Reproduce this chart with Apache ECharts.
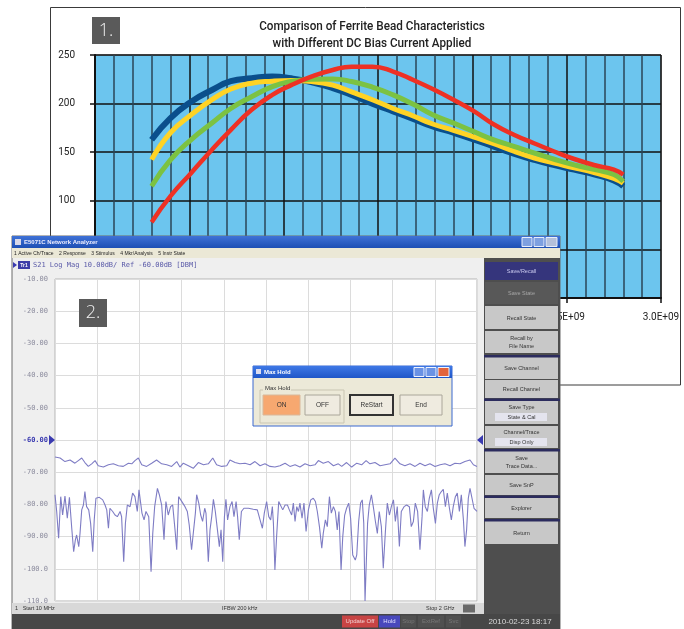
<!DOCTYPE html>
<html><head><meta charset="utf-8">
<script src="https://cdn.jsdelivr.net/npm/echarts@6/dist/echarts.min.js"></script>
<style>html,body{margin:0;padding:0;background:#fff}#c{width:684px;height:629px}</style>
</head><body><div id="c"></div>
<script>
// ---------- Chart 1: ferrite bead impedance vs frequency (GHz) ----------
const beadFreqGHz = [0.30,0.40,0.51,0.62,0.72,0.83,0.94,1.04,1.15,1.26,1.36,1.47,1.58,1.69,1.79,1.90,2.01,2.11,2.22,2.33,2.43,2.54,2.65,2.75,2.80];
const biasBlue   = [162.9,185,202,214,223,226,228,226,222,216,209,200,192,184,176.5,170,163,156,148.5,142,137,132,127,121,115];
const biasYellow = [142.4,170,188.5,204,215,221,223,223.7,222.7,219,212,204,195,187,179,172.5,165.6,159,151,144,139,134,128.7,123,118];
const biasGreen  = [115,142,163,180,195,207,217.5,222.7,225,225.4,222.7,217,209,199,188.5,180,171,163,156,149,143,137,132,127,120];
const biasRed    = [78,104.8,128.7,152.6,173,193.6,209,219,228,234.6,238,238,233,224,215,204,192,179,168,159,151,143,136.6,132,127];
const chart1Title = ['Comparison of Ferrite Bead Characteristics', 'with Different DC Bias Current Applied'];

// ---------- Chart 2: network analyzer S21 traces ----------
const lowerMHz = [10,18,27,37,46,57,68,78,89,98,106,112,122,128,136,144,151,159,169,178,188,195,203,219,235,246,254,262,269,282,293,304,317,324,334,342,351,364,376,387,398,406,414,420,430,439,452,463,471,480,493,502,513,524,533,544,555,565,576,584,593,603,612,623,634,643,654,662,672,678,688,697,706,716,722,733,741,749,757,766,776,785,793,801,809,816,824,835,845,854,864,871,879,889,901,922,945,964,977,988,997,1008,1018,1027,1035,1040,1047,1055,1065,1074,1084,1095,1106,1115,1126,1134,1142,1150,1158,1165,1175,1184,1194,1205,1216,1228,1238,1247,1257,1268,1275,1285,1294,1304,1313,1323,1332,1341,1349,1359,1367,1376,1385,1395,1404,1414,1420,1426,1433,1442,1451,1459,1466,1472,1478,1484,1492,1502,1511,1521,1530,1539,1549,1558,1568,1577,1587,1596,1606,1615,1624,1634,1643,1656,1668,1681,1690,1700,1709,1720,1731,1741,1747,1756,1766,1775,1785,1794,1804,1813,1822,1832,1841,1851,1860,1870,1879,1888,1898,1907,1917,1926,1936,1943,1951,1959,1967,1976,1986,2000];
const lowerDb = [-77.0,-82.2,-90.5,-77.6,-83.3,-77.4,-84.3,-77.8,-87.4,-94.7,
-91.0,-89.5,-93.1,-89.0,-81.7,-80.2,-76.0,-80.7,-81.7,-85.9,
-94.7,-84.8,-78.1,-77.8,-78.6,-80.2,-81.7,-87.4,-81.2,-82.2,
-83.3,-83.8,-82.2,-83.8,-97.8,-85.9,-80.2,-80.7,-76.5,-77.6,
-82.2,-75.5,-75.0,-82.7,-84.8,-82.2,-83.8,-100.9,-89.0,-80.7,
-75.0,-77.0,-80.2,-91.0,-79.1,-83.3,-80.7,-80.2,-87.9,-94.1,
-77.6,-78.6,-79.1,-80.7,-82.2,-86.4,-94.1,-93.6,-82.7,-77.0,
-79.6,-83.3,-85.3,-81.2,-82.7,-97.8,-87.9,-83.8,-78.4,-82.2,
-87.9,-93.1,-87.9,-97.8,-83.8,-78.4,-84.8,-80.7,-79.1,-83.8,
-79.1,-83.8,-91.0,-82.2,-81.2,-81.2,-81.5,-81.7,-84.8,-87.4,
-82.7,-79.1,-83.8,-84.8,-80.7,-85.9,-100.4,-90.0,-79.1,-78.6,
-81.7,-80.2,-80.2,-81.7,-83.3,-79.6,-85.3,-80.7,-82.2,-79.6,
-84.3,-79.6,-88.4,-81.7,-78.6,-78.1,-79.1,-82.2,-86.9,-93.6,
-89.0,-84.8,-86.9,-77.6,-82.7,-80.7,-82.2,-87.9,-82.2,-100.4,
-90.0,-83.3,-81.2,-79.6,-84.3,-95.7,-95.2,-97.3,-95.7,-85.3,
-79.6,-78.6,-85.9,-110,-110,-85.9,-80.2,-77.0,-80.7,-85.3,
-89.0,-82.2,-86.9,-99.8,-88.4,-79.6,-83.3,-80.7,-78.6,-85.3,
-80.7,-93.1,-82.2,-80.7,-80.2,-80.7,-86.9,-85.3,-79.6,-82.2,
-94.1,-83.8,-75.5,-80.7,-82.2,-78.1,-75.5,-81.2,-85.9,-79.6,
-77.0,-76.0,-75.3,-80.7,-76.5,-81.2,-84.8,-80.7,-77.6,-76.5,
-82.2,-77.0,-84.8,-93.1,-87.9,-78.1,-75.0,-75.5,-81.2,-82.2];
const upperMHz = [10,34,57,81,104,120,136,151,167,183,199,214,238,262,285,309,332,356,372,387,403,419,442,466,489,513,537,560,584,599,615,639,662,686,710,733,754,772,796,820,835,859,882,906,930,953,977,1000,1024,1047,1071,1095,1118,1142,1165,1189,1213,1236,1252,1275,1299,1323,1346,1362,1385,1409,1433,1456,1477,1495,1519,1543,1566,1590,1613,1637,1660,1684,1708,1731,1755,1778,1802,1826,1849,1873,1896,1920,1943,1967,1983,2000];
const upperDb = [-65.3,-65.6,-66.7,-66.2,-67.2,-66.4,-65.6,-67.0,-68.2,-67.4,-66.4,-68.0,-68.4,-67.7,-67.4,-68.0,-68.2,-67.2,-67.4,-66.4,-65.6,-67.7,-68.2,-67.2,-66.2,-67.4,-67.7,-68.2,-66.7,-68.4,-67.2,-68.0,-68.8,-67.0,-67.7,-67.4,-65.6,-67.7,-68.2,-68.0,-66.2,-67.0,-67.4,-67.2,-67.7,-66.7,-68.0,-67.4,-68.2,-68.4,-68.0,-67.2,-68.2,-67.7,-68.4,-67.4,-68.0,-67.7,-66.4,-67.2,-66.7,-68.0,-67.4,-68.2,-67.0,-68.4,-67.2,-67.7,-66.4,-67.4,-67.0,-68.0,-67.7,-67.4,-65.6,-67.4,-68.0,-67.4,-68.2,-67.2,-68.0,-67.4,-68.2,-67.7,-67.4,-68.0,-67.2,-67.4,-66.7,-66.2,-67.7,-68.2];

const softKeys = [
  {label:'Save/Recall', y:262, h:18, fill:'#35357c', color:'#c9c9ee'},
  {label:'Save State', y:282, h:22, fill:'#585858', color:'#a8a8a8'},
  {label:'Recall State', y:306, h:23, fill:'#c8c8c8', color:'#333'},
  {label:'Recall by\nFile Name', y:331, h:22, fill:'#c8c8c8', color:'#333'},
  {label:'Save Channel', y:357, h:22, fill:'#c8c8c8', color:'#333'},
  {label:'Recall Channel', y:380, h:18, fill:'#c8c8c8', color:'#333'},
  {label:'Save Type', sub:'State & Cal', y:401, h:23, fill:'#c8c8c8', color:'#333'},
  {label:'Channel/Trace', sub:'Disp Only', y:426, h:22, fill:'#c8c8c8', color:'#333'},
  {label:'Save\nTrace Data...', y:451, h:22, fill:'#c8c8c8', color:'#333'},
  {label:'Save SnP', y:475, h:20, fill:'#c8c8c8', color:'#333'},
  {label:'Explorer', y:498, h:20, fill:'#c8c8c8', color:'#333'},
  {label:'Return', y:521, h:23, fill:'#c8c8c8', color:'#333'}
];
const separators = [355, 398.5, 449, 495.5, 519];

function zip(a, b){ const n=Math.min(a.length,b.length), r=[]; for(let i=0;i<n;i++) r.push([a[i],b[i]]); return r; }
function rect(x,y,w,h,fill,z,stroke,lw){ return {type:'rect', shape:{x:x,y:y,width:w,height:h}, style:{fill:fill, stroke:stroke||null, lineWidth:lw||1}, z:z, silent:true}; }
function txt(x,y,s,font,fill,align,z,extra,el){ return Object.assign({type:'text', x:x, y:y, z:z, silent:true, style:Object.assign({text:s, font:font, fill:fill, align:align||'left', textAlign:align||'left', verticalAlign:'middle', textVerticalAlign:'middle'}, extra||{})}, el||{}); }
function grad(c1,c2){ return {type:'linear',x:0,y:0,x2:0,y2:1,colorStops:[{offset:0,color:c1},{offset:1,color:c2}]}; }

const UI = '"Liberation Sans", "DejaVu Sans", sans-serif';
const MONO = '"DejaVu Sans Mono", "Liberation Mono", monospace';
const NARROW = '"Liberation Sans Narrow", "Roboto", "Liberation Sans", sans-serif';

const g = [];
// chart 1 frame and labels
g.push({type:'rect', shape:{x:50.5,y:7.5,width:630,height:377.5}, style:{fill:'none', stroke:'#3a3a3a', lineWidth:1}, z:1, silent:true});
g.push(rect(92,17,28,27,'#5a5a5a',5));
g.push(txt(106,31,'1.','300 18px "Open Sans", sans-serif','#f0f0f0','center',6));
g.push(txt(372,27,chart1Title[0],'500 13px Roboto, sans-serif','#222','center',5,null,{scaleX:0.9}));
g.push(txt(372,44,chart1Title[1],'500 13px Roboto, sans-serif','#222','center',5,null,{scaleX:0.9}));

// chart 2 window
g.push(rect(12,236,548,393,'#efefef',10,'#6a6a6a',1));
g.push(rect(12,236,548,12,grad('#3f72d6','#1d4fb4'),11));
g.push(rect(15,239,6,6,'#d8d8e8',12));
g.push(txt(24,242.5,'E5071C Network Analyzer','bold 6px '+UI,'#eef','left',12));
g.push(rect(522,237.5,10,9,'#7ea0e0',12,'#e8eefc',1));
g.push(rect(534,237.5,10,9,'#7ea0e0',12,'#e8eefc',1));
g.push(rect(546,237.5,11,9,'#b4c0da',12,'#e8eefc',1));
g.push(rect(12,248,548,10,'#ebe8d6',11));
g.push(txt(14,253.5,'1 Active Ch/Trace    2 Response    3 Stimulus    4 Mkr/Analysis    5 Instr State','5px '+UI,'#222','left',12));
// trace header
g.push({type:'polygon', shape:{points:[[13,262],[13,268],[17,265]]}, style:{fill:'#3a3ab0'}, z:12, silent:true});
g.push(rect(18,261,12,8,'#3c3ca8',12));
g.push(txt(24,265.5,'Tr1','bold 5px '+UI,'#fff','center',13));
g.push(txt(33,265.5,'S21 Log Mag 10.00dB/ Ref -60.00dB [DBM]','7px '+MONO,'#5a5aa8','left',12));
// reference markers at -60 dB
g.push({type:'polygon', shape:{points:[[49,435],[49,445],[55,440]]}, style:{fill:'#3a3ab0'}, z:20, silent:true});
g.push({type:'polygon', shape:{points:[[483,435],[483,445],[477,440]]}, style:{fill:'#3a3ab0'}, z:20, silent:true});
// right soft-key panel
g.push(rect(484,258,76,356,'#4e4e4e',11));
softKeys.forEach(k => {
  g.push(rect(485,k.y,73,k.h,k.fill,12));
  if (k.sub) {
    g.push(txt(521.5,k.y+6,k.label,'5.5px '+UI,k.color,'center',13));
    g.push(rect(495,k.y+12,52,8,'#e4e4ee',13));
    g.push(txt(521.5,k.y+16.5,k.sub,'5.5px '+UI,'#333','center',14));
  } else {
    g.push(txt(521.5,k.y+k.h/2+0.5,k.label,'5.5px '+UI,k.color,'center',13,{lineHeight:8}));
  }
});
separators.forEach(y => g.push(rect(484,y,76,2.5,'#2c2c5e',13)));
// status bar
g.push(rect(12,603,472,11,'#d8d8d8',12));
g.push(txt(15,608.8,'1   Start 10 MHz','5.5px '+UI,'#333','left',13));
g.push(txt(222,608.8,'IFBW 200 kHz','5.5px '+UI,'#333','left',13));
g.push(txt(426,608.8,'Stop 2 GHz','5.5px '+UI,'#333','left',13));
g.push(rect(463,604.5,12,8,'#6a6a6a',13));
// bottom bar
g.push(rect(12,614,548,15,'#474747',12));
g.push(rect(342,615.5,36,12,'#c84444',13));
g.push(txt(360,621.8,'Update Off','6px '+UI,'#f4d4d4','center',14));
g.push(rect(379,615.5,21,12,'#4848bc',13));
g.push(txt(389.5,621.8,'Hold','6px '+UI,'#e0e0ff','center',14));
g.push(rect(401,615.5,15,12,'#505050',13));
g.push(txt(408.5,621.8,'Stop','6px '+UI,'#777','center',14));
g.push(rect(418,615.5,26,12,'#505050',13));
g.push(txt(431,621.8,'ExtRef','6px '+UI,'#777','center',14));
g.push(rect(446,615.5,15,12,'#505050',13));
g.push(txt(453.5,621.8,'Svc','6px '+UI,'#777','center',14));
g.push(txt(520,622,'2010-02-23 18:17','8px '+UI,'#d8d8d8','center',14));
// "2." tag
g.push(rect(79,299,28,28,'#5a5a5a',25));
g.push(txt(93,313,'2.','300 18px "Open Sans", sans-serif','#f0f0f0','center',26));
// Max Hold dialog
g.push(rect(253,366,199,60,'#ece9d8',30,'#3b68d0',1));
g.push(rect(253,366,199,12,grad('#3e78e6','#1f56c8'),31));
g.push(rect(256,369,5,5,'#dde',32));
g.push(txt(264,372.5,'Max Hold','bold 6px '+UI,'#fff','left',32));
g.push(rect(414,367.5,10,9,'#6a92e4',32,'#f0f4ff',1));
g.push(rect(426,367.5,10,9,'#6a92e4',32,'#f0f4ff',1));
g.push(rect(438,367.5,11,9,'#e2643c',32,'#f0f4ff',1));
g.push(rect(260,390,84,33,'none',31,'#c9c5b2',1));
g.push(rect(263,385,28,7,'#ece9d8',32));
g.push(txt(265,388.5,'Max Hold','6px '+UI,'#333','left',33));
g.push(rect(263,395,37,20,'#f7a870',32,'#d9b89a',1));
g.push(txt(281.5,405.5,'ON','6.5px '+UI,'#333','center',33));
g.push(rect(305,395,35,20,'#efebe0',32,'#aaa69a',1));
g.push(txt(322.5,405.5,'OFF','6.5px '+UI,'#333','center',33));
g.push(rect(350,395,43,20,'#efebe0',32,'#333',2));
g.push(txt(371.5,405.5,'ReStart','6.5px '+UI,'#333','center',33));
g.push(rect(400,395,42,20,'#efebe0',32,'#aaa69a',1));
g.push(txt(421,405.5,'End','6.5px '+UI,'#333','center',33));

function sci(v){
  if (v === 0) return '0.0E+00';
  const x = v*1e9, e = Math.floor(Math.log10(x)+1e-9), m = x/Math.pow(10,e);
  return m.toFixed(1)+'E+'+String(e).padStart(2,'0');
}

const chart = echarts.init(document.getElementById('c'), null, {renderer:'canvas'});
chart.setOption({
  animation:false,
  backgroundColor:'#fff',
  grid:[
    {left:95, top:55, width:566, height:243, show:true, backgroundColor:'#6cc5ee', borderColor:'#8a8a8a', borderWidth:1, z:1},
    {left:55, top:279, width:422, height:322, show:true, backgroundColor:'#ffffff', borderColor:'#b4b4b4', borderWidth:1, z:15}
  ],
  xAxis:[
    {gridIndex:0, type:'value', min:0, max:3, interval:0.5, z:2,
     axisLine:{show:true, onZero:false, lineStyle:{color:'#111', width:2}},
     axisTick:{show:true, length:5, lineStyle:{color:'#111', width:1.5}},
     axisLabel:{formatter:sci, fontSize:10, fontFamily:NARROW, color:'#222', margin:14},
     splitLine:{show:true, lineStyle:{color:'#111', width:1.5}},
     minorTick:{show:false, splitNumber:5},
     minorSplitLine:{show:true, lineStyle:{color:'#2a4658', width:1.5}}},
    {gridIndex:1, type:'value', min:10, max:2000, show:false, z:16},
    {gridIndex:1, type:'value', min:0, max:10, interval:1, position:'bottom', z:16,
     axisLine:{show:false}, axisTick:{show:false}, axisLabel:{show:false},
     splitLine:{show:true, lineStyle:{color:'#dcdcdc', width:1}}}
  ],
  yAxis:[
    {gridIndex:0, type:'value', min:0, max:250, interval:50, z:2,
     axisLine:{show:true, onZero:false, lineStyle:{color:'#111', width:2}},
     axisTick:{show:true, length:5, lineStyle:{color:'#111', width:1.5}},
     axisLabel:{fontSize:10, fontFamily:NARROW, color:'#222', margin:20},
     splitLine:{show:true, lineStyle:{color:'#111', width:1.5}}},
    {gridIndex:1, type:'value', min:-110, max:-10, interval:10, z:16,
     axisLine:{show:false}, axisTick:{show:false},
     axisLabel:{margin:7, fontSize:7, fontFamily:MONO, color:'#8c8c9e',
       formatter: v => { const s = Math.abs(v) >= 100 ? v.toFixed(1) : v.toFixed(2); return v === -60 ? '{m|'+s+'}' : s; },
       rich:{m:{color:'#3a3ab0', fontSize:7, fontFamily:MONO, fontWeight:'bold'}}},
     splitLine:{show:true, lineStyle:{color:'#dcdcdc', width:1}}}
  ],
  series:[
    {name:'Bias 1', type:'line', xAxisIndex:0, yAxisIndex:0, data:zip(beadFreqGHz,biasBlue), smooth:true, showSymbol:false, lineStyle:{color:'#0a4f8c', width:6}, z:2},
    {name:'Bias 2', type:'line', xAxisIndex:0, yAxisIndex:0, data:zip(beadFreqGHz,biasYellow), smooth:true, showSymbol:false, lineStyle:{color:'#ffd325', width:5}, z:3},
    {name:'Bias 3', type:'line', xAxisIndex:0, yAxisIndex:0, data:zip(beadFreqGHz,biasGreen), smooth:true, showSymbol:false, lineStyle:{color:'#7cc242', width:5}, z:4},
    {name:'Bias 4', type:'line', xAxisIndex:0, yAxisIndex:0, data:zip(beadFreqGHz,biasRed), smooth:true, showSymbol:false, lineStyle:{color:'#ee3124', width:4.5}, z:5},
    {name:'S21 max hold', type:'line', xAxisIndex:1, yAxisIndex:1, data:zip(upperMHz,upperDb), showSymbol:false, lineStyle:{color:'#7e7cc4', width:1.1}, z:17},
    {name:'S21', type:'line', xAxisIndex:1, yAxisIndex:1, data:zip(lowerMHz,lowerDb), showSymbol:false, lineStyle:{color:'#7e7cc4', width:1.1}, z:17}
  ],
  graphic:{elements:g}
});
</script></body></html>
